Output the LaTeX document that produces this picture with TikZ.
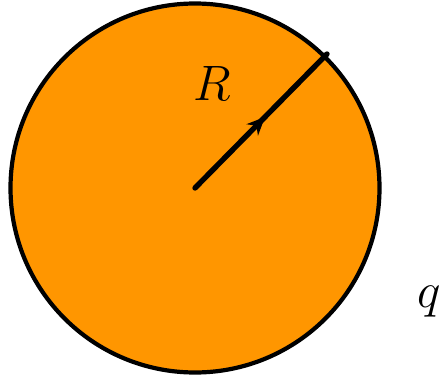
\documentclass[tikz,border=0pt]{standalone}
\usetikzlibrary{arrows.meta,decorations.markings}
\definecolor{ballorange}{RGB}{255,150,0}
\begin{document}
\begin{tikzpicture}[x=0.5pt,y=-0.5pt,
  ball/.style={draw=black,line width=2.1pt,fill=ballorange},
  radius line/.style={line width=2.7pt,line cap=round,
    decoration={markings,mark=at position 0.53 with {\arrow{Stealth[length=9pt,width=8pt]}}},
    postaction={decorate}},
  lbl/.style={font=\fontsize{23}{27}\selectfont\itshape,inner sep=0pt}]
\useasboundingbox (0,0) rectangle (444,380);
\node[ball,circle,minimum size=184.5pt,inner sep=0pt] (ball) at (195,188) {};
\coordinate (c) at (195,188);
\coordinate (e) at (327,54);
\draw[radius line] (c) -- (e);
\node[lbl] (R) at (212,83) {$R$};
\node[lbl] (q) at (429,302) {$q$};
\end{tikzpicture}
\end{document}
